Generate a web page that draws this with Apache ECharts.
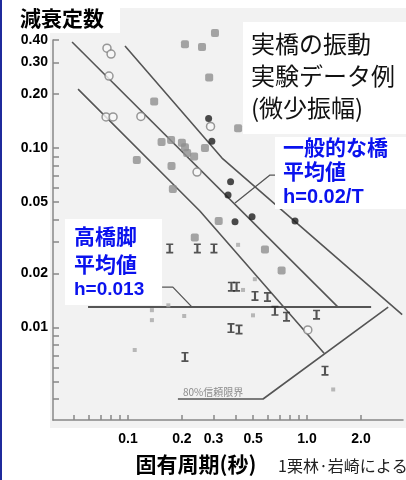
<!DOCTYPE html>
<html>
<head>
<meta charset="utf-8">
<script src="https://cdn.jsdelivr.net/npm/echarts@6/dist/echarts.min.js"></script>
<style>
html, body { margin: 0; padding: 0; background: #fff; }
#chart { width: 406px; height: 480px; }
</style>
</head>
<body>
<div id="chart"></div>
<script>
// 読み取り値 [固有周期T(秒), 減衰定数h]
const openPts = [[0.0763, 0.360], [0.0804, 0.334], [0.0783, 0.252], [0.0754, 0.149], [0.0825, 0.149],
  [0.118, 0.150], [0.289, 0.132], [0.243, 0.0735], [1.01, 0.0097]];
const grayPts = [[0.208, 0.379], [0.259, 0.366], [0.306, 0.438], [0.284, 0.247], [0.140, 0.182],
  [0.154, 0.108], [0.174, 0.111], [0.200, 0.107], [0.208, 0.101], [0.214, 0.0938], [0.234, 0.0897],
  [0.269, 0.100], [0.112, 0.0857], [0.412, 0.129], [0.175, 0.0794], [0.178, 0.0591], [0.321, 0.0392],
  [0.236, 0.0317], [0.582, 0.0272], [0.721, 0.0208]];
const blackPts = [[0.282, 0.146], [0.294, 0.109], [0.374, 0.0649], [0.362, 0.0547], [0.396, 0.0388],
  [0.493, 0.0414], [0.857, 0.0392]];
const pierPts = [[0.171, 0.0276], [0.244, 0.0276], [0.302, 0.0276], [0.378, 0.0169], [0.404, 0.0169],
  [0.512, 0.0150], [0.601, 0.0148], [0.662, 0.0124], [0.768, 0.0115], [1.13, 0.0118], [0.376, 0.00993],
  [0.417, 0.00975], [0.208, 0.00686], [1.26, 0.00575]];
const faintPts = [[0.136, 0.0125], [0.136, 0.0110], [0.168, 0.0133], [0.206, 0.0116], [0.109, 0.0075],
  [0.499, 0.0117], [1.40, 0.00452], [0.412, 0.0289], [0.511, 0.0186], [0.439, 0.0162]];

// 図中の線
const upperLine = [[0.0962, 0.370], [0.335, 0.088], [3.40, 0.0118]];
const meanLine = [[0.0487, 0.390], [1.49, 0.013]];
const lowerLine = [[0.0526, 0.213], [0.252, 0.0446], [1.245, 0.0072]];
const limitLine = [[0.190, 0.0040], [0.568, 0.0040], [2.84, 0.013]];
const pierMean = [[0.0598, 0.013], [2.28, 0.013]];
const leaderA = [[0.396, 0.0494], [0.621, 0.0707], [0.68, 0.0707]];
const leaderB = [[0.155, 0.0168], [0.178, 0.0168], [0.228, 0.013]];

// 目盛
const xTicks = [0.05, 0.06, 0.07, 0.08, 0.09, 0.1, 0.2, 0.3, 0.4, 0.5, 0.6, 0.7, 0.8, 0.9, 1, 2];
const xLabelVals = [0.1, 0.2, 0.3, 0.5, 1, 2];
const xLabelText = ['0.1', '0.2', '0.3', '0.5', '1.0', '2.0'];
const yTicks = [0.004, 0.005, 0.006, 0.007, 0.008, 0.009, 0.01, 0.02, 0.03, 0.04, 0.05, 0.06, 0.07,
  0.08, 0.09, 0.1, 0.2, 0.3, 0.4];
const yLabelVals = [0.01, 0.02, 0.05, 0.1, 0.2, 0.3, 0.4];
const yLabelText = ['0.01', '0.02', '0.05', '0.10', '0.20', '0.30', '0.40'];

const lg = (pts) => pts.map((p) => [Math.log10(p[0]), Math.log10(p[1])]);
const lgv = (vals) => vals.map((v) => Math.log10(v));
function pick(vals, texts) {
  return function (v) {
    let best = 0;
    vals.forEach((t, i) => {
      if (Math.abs(Math.log10(t) - v) < Math.abs(Math.log10(vals[best]) - v)) best = i;
    });
    return texts[best];
  };
}

const latin = '"Liberation Sans", Arial, sans-serif';
const cjk = '"Noto Sans CJK JP", sans-serif';
const mixed = '"Liberation Sans", "Noto Sans CJK JP", sans-serif';
const blue = '#0a12ee';
const iBeam = 'path://M0,0H10V2H6.5V10H10V12H0V10H3.5V2H0Z';

function lineSeries(pts, w) {
  return {
    type: 'line', data: lg(pts), symbol: 'none', silent: true,
    lineStyle: { color: '#555', width: w || 1.6 },
    z: 3,
  };
}

const myChart = echarts.init(document.getElementById('chart'));
const option = {
  backgroundColor: '#fff',
  animation: false,
  grid: { left: 53, right: 3, top: 40, bottom: 60 },
  xAxis: {
    type: 'value',
    min: -1.419, max: 0.536,
    axisLine: { onZero: false, lineStyle: { color: '#888', width: 1.5 } },
    axisTick: { inside: true, length: 5, customValues: lgv(xTicks), lineStyle: { color: '#888', width: 1.5 } },
    axisLabel: {
      customValues: lgv(xLabelVals), formatter: pick(xLabelVals, xLabelText),
      margin: 12, color: '#000', fontSize: 14, fontWeight: 'bold', fontFamily: latin,
    },
    splitLine: { show: false },
  },
  yAxis: {
    type: 'value',
    min: -2.515, max: Math.log10(0.4),
    axisLine: { show: true, onZero: false, lineStyle: { color: '#888', width: 1.5 } },
    axisTick: { show: true, inside: true, length: 6, customValues: lgv(yTicks), lineStyle: { color: '#888', width: 1.5 } },
    axisLabel: {
      customValues: lgv(yLabelVals), formatter: pick(yLabelVals, yLabelText),
      margin: 5, color: '#000', fontSize: 14, fontWeight: 'bold', fontFamily: latin,
    },
    splitLine: { show: false },
  },
  series: [
    lineSeries(upperLine),
    lineSeries(meanLine),
    lineSeries(lowerLine),
    lineSeries(limitLine),
    lineSeries(pierMean, 2),
    lineSeries(leaderA, 1.3),
    lineSeries(leaderB, 1.3),
    {
      type: 'scatter', data: lg(openPts), symbol: 'circle', symbolSize: 8,
      itemStyle: { color: '#f7f7f7', borderColor: '#808080', borderWidth: 1.5 }, z: 4,
    },
    {
      type: 'scatter', data: lg(grayPts), symbol: 'roundRect', symbolSize: 8, clip: false,
      itemStyle: { color: '#8e8e8e' }, z: 4,
    },
    {
      type: 'scatter', data: lg(blackPts), symbol: 'circle', symbolSize: 7,
      itemStyle: { color: '#1e1e1e' }, z: 4,
    },
    {
      type: 'scatter', data: lg(pierPts), symbol: iBeam, symbolSize: [7, 10],
      itemStyle: { color: '#2a2a2a' }, z: 4,
    },
    {
      type: 'scatter', data: lg(faintPts), symbol: 'rect', symbolSize: 4,
      itemStyle: { color: '#a8a8a8' }, z: 4,
    },
  ],
  graphic: [
    { type: 'rect', z: -1, silent: true, shape: { x: 50, y: 8, width: 356, height: 420 }, style: { fill: '#f2f2f2' } },
    { type: 'rect', z: 20, silent: true, shape: { x: 0, y: 0, width: 2, height: 480 }, style: { fill: '#1f2a9c' } },
    { type: 'rect', z: 10, silent: true, shape: { x: 14, y: 0, width: 106, height: 33 }, style: { fill: '#fff' } },
    { type: 'rect', z: 10, silent: true, shape: { x: 243, y: 22, width: 163, height: 112 }, style: { fill: '#fff' } },
    { type: 'rect', z: 10, silent: true, shape: { x: 275, y: 137, width: 131, height: 72 }, style: { fill: '#fff' } },
    { type: 'rect', z: 10, silent: true, shape: { x: 65, y: 219, width: 97, height: 86 }, style: { fill: '#fff' } },
    { type: 'text', z: 11, x: 20, y: 18, style: { text: '減衰定数', font: 'bold 21px ' + cjk, fill: '#000', verticalAlign: 'middle' } },
    { type: 'text', z: 11, x: 251, y: 44, style: { text: '実橋の振動', font: '24px ' + cjk, fill: '#111', verticalAlign: 'middle' } },
    { type: 'text', z: 11, x: 251, y: 76, style: { text: '実験データ例', font: '24px ' + cjk, fill: '#111', verticalAlign: 'middle' } },
    { type: 'text', z: 11, x: 251, y: 108, style: { text: '(微少振幅)', font: '24px ' + cjk, fill: '#111', verticalAlign: 'middle' } },
    { type: 'text', z: 11, x: 283, y: 147, style: { text: '一般的な橋', font: 'bold 21px ' + cjk, fill: blue, verticalAlign: 'middle' } },
    { type: 'text', z: 11, x: 283, y: 171, style: { text: '平均値', font: 'bold 21px ' + cjk, fill: blue, verticalAlign: 'middle' } },
    { type: 'text', z: 11, x: 283, y: 197, style: { text: 'h=0.02/T', font: 'bold 20px ' + mixed, fill: blue, verticalAlign: 'middle' } },
    { type: 'text', z: 11, x: 74, y: 236, style: { text: '高橋脚', font: 'bold 21px ' + cjk, fill: blue, verticalAlign: 'middle' } },
    { type: 'text', z: 11, x: 74, y: 264, style: { text: '平均値', font: 'bold 21px ' + cjk, fill: blue, verticalAlign: 'middle' } },
    { type: 'text', z: 11, x: 74, y: 290, style: { text: 'h=0.013', font: 'bold 19px ' + mixed, fill: blue, verticalAlign: 'middle' } },
    { type: 'text', z: 5, x: 183, y: 392, style: { text: '80%信頼限界', font: '10px ' + cjk, fill: '#8a8a8a', verticalAlign: 'middle' } },
    { type: 'text', z: 11, x: 196, y: 464, style: { text: '固有周期(秒)', font: 'bold 21px ' + cjk, fill: '#000', align: 'center', verticalAlign: 'middle' } },
    { type: 'text', z: 11, x: 278, y: 466, style: { text: '1栗林·岩崎による', font: '16px ' + cjk, fill: '#222', verticalAlign: 'middle' } },
  ],
};
myChart.setOption(option);
</script>
</body>
</html>
